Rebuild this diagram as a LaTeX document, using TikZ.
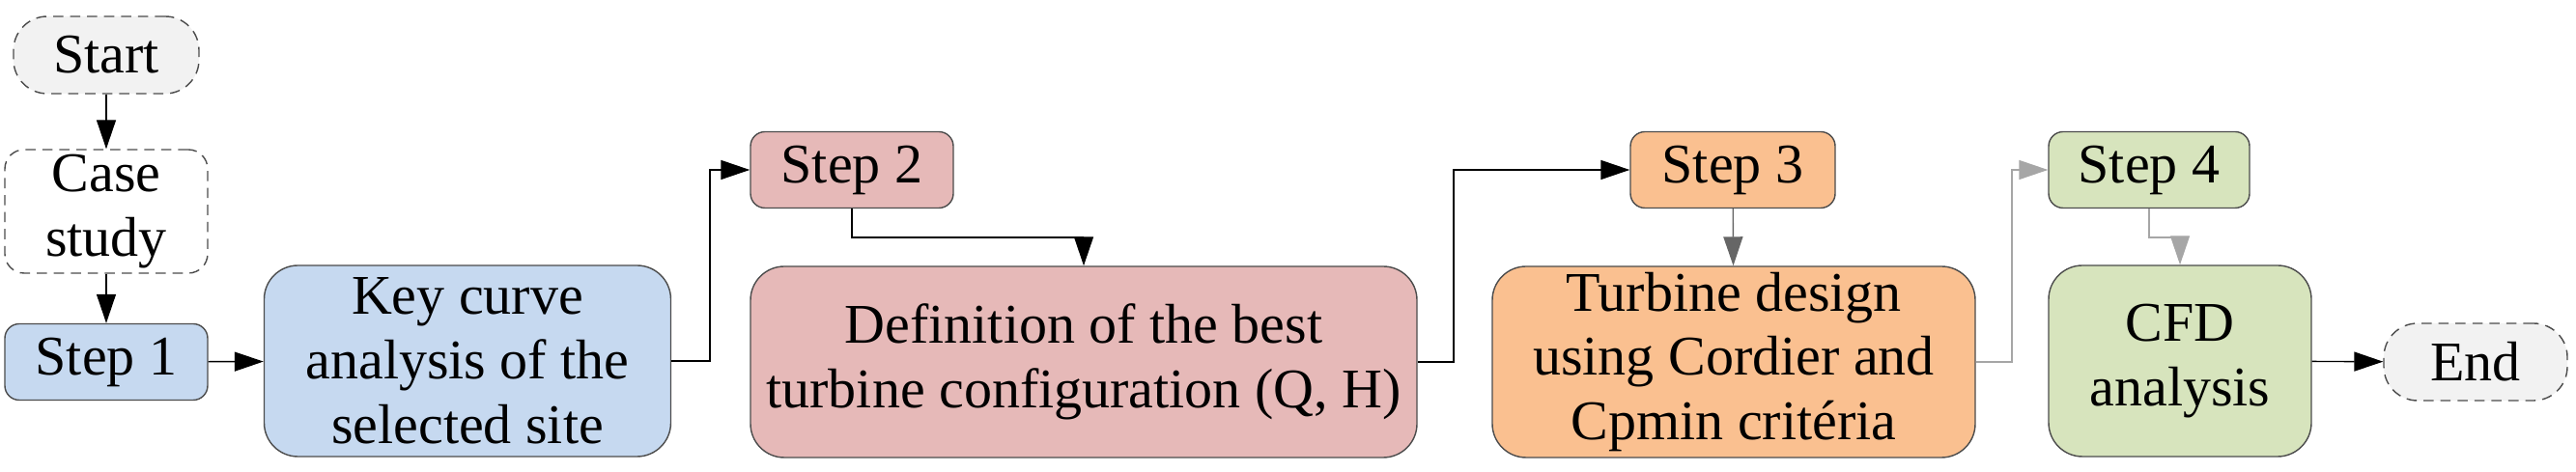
\documentclass[tikz,border=0pt]{standalone}
\usepackage{fontspec}
\setmainfont{Liberation Serif}
\usetikzlibrary{arrows.meta}
\usetikzlibrary{positioning}
\definecolor{stepblue}{HTML}{C6D9F0}
\definecolor{steppink}{HTML}{E6B9B8}
\definecolor{steporange}{HTML}{FAC090}
\definecolor{stepgreen}{HTML}{D7E4BD}
\definecolor{termgray}{HTML}{F2F2F2}
\tikzset {
  flow node/.style = {
    draw = black!70,
    thin,
    align = center,
    inner sep = 0,
    font = \fontsize{16.5}{19}\selectfont
  },
  % start and end symbols
  terminal/.style = {
    flow node,
    fill = termgray,
    densely dashed,
    rounded corners = 0.35cm,
    minimum width = 1.92cm,
    minimum height = 0.8cm
  },
  % small step labels
  stepbox/.style = {
    flow node,
    rounded corners = 0.15cm,
    minimum width = 2.1cm,
    minimum height = 0.79cm
  },
  % larger activity boxes
  task/.style = {
    flow node,
    rounded corners = 0.35cm,
    minimum height = 1.98cm
  },
  arr/.style = {
    draw = black,
    thin,
    -{Triangle[length=0.3cm,width=0.2cm]}
  },
  garr/.style = {
    arr,
    draw = black!35
  }
}
\begin{document}
\begin{tikzpicture}
    \useasboundingbox (0,0) rectangle (26.67,-4.89);

    \node[terminal] (start) at (1.10,-0.57) {Start};
    \node[task, fill = white, densely dashed, rounded corners = 0.2cm,
      minimum width = 2.1cm, minimum height = 1.28cm] (case) at (1.10,-2.19) {Case\\study};
    \node[stepbox, fill = stepblue, minimum width = 2.1cm] (step1) at (1.10,-3.75) {Step 1};
    \node[task, fill = stepblue, minimum width = 4.21cm] (keycurve) at (4.84,-3.74)
      {Key curve\\analysis of the\\selected site};

    \node[stepbox, fill = steppink] (step2) at (8.82,-1.76) {Step 2};
    \node[task, fill = steppink, minimum width = 6.9cm] (definition) at (11.22,-3.75)
      {Definition of the best\\turbine configuration (Q, H)};

    \node[stepbox, fill = steporange, minimum width = 2.12cm] (step3) at (17.94,-1.76) {Step 3};
    \node[task, fill = steporange, minimum width = 5.0cm] (turbine) at (17.95,-3.75)
      {Turbine design\\using Cordier and\\Cpmin critéria};

    \node[stepbox, fill = stepgreen, minimum width = 2.08cm] (step4) at (22.25,-1.76) {Step 4};
    \node[task, fill = stepgreen, minimum width = 2.72cm] (cfd) at (22.57,-3.74)
      {CFD\\analysis};
    \node[terminal, minimum width = 1.9cm] (end) at (25.63,-3.75) {End};

    \coordinate (key-step2) at (7.35,-3.74);
    \coordinate (step2-def) at (8.82,-2.46);
    \coordinate (def-step3) at (15.05,-3.75);
    \coordinate (turb-step4) at (20.83,-3.75);
    \coordinate (step4-cfd) at (22.25,-2.46);

    \draw[arr] (start) -- (case);
    \draw[arr] (case) -- (step1);
    \draw[arr] (step1) -- (keycurve);

    \draw[arr] (keycurve) -- (key-step2) |- (step2);
    \draw[arr] (step2) -- (step2-def) -| (definition);

    \draw[arr] (definition) -- (def-step3) |- (step3);
    \draw[arr, draw = black!60] (step3) -- (turbine);

    \draw[garr] (turbine) -- (turb-step4) |- (step4);
    \draw[garr] (step4) -- (step4-cfd) -| (cfd);
    \draw[arr] (cfd) -- (end);
\end{tikzpicture}
\end{document}
